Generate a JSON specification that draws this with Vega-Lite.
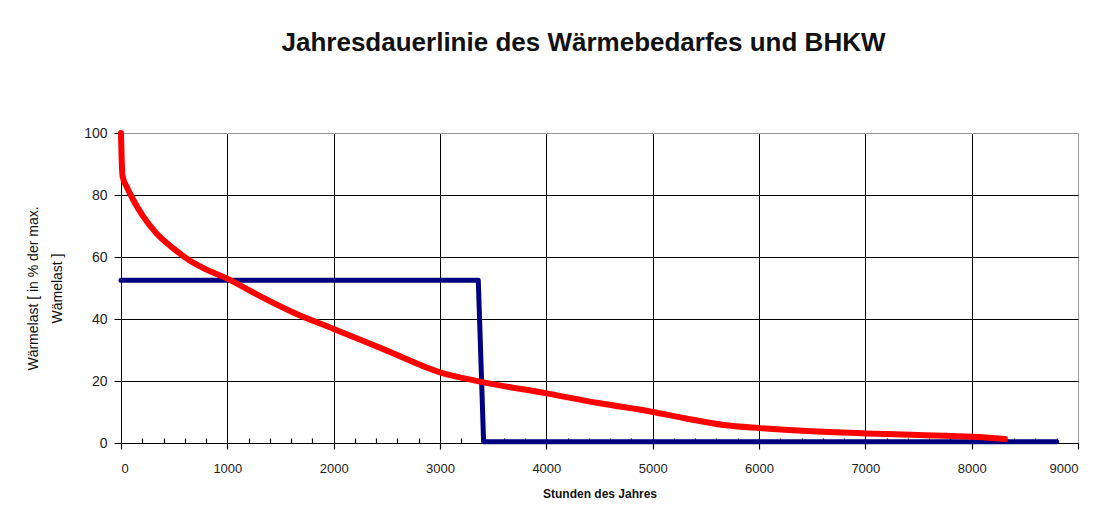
{
  "$schema": "https://vega.github.io/schema/vega-lite/v6.json",
  "autosize": "none",
  "width": 957,
  "height": 310,
  "padding": {"left": 121, "top": 133, "right": 21, "bottom": 74},
  "background": "white",
  "config": {
    "font": "Liberation Sans",
    "view": {"stroke": "#9a9a9a", "strokeWidth": 1},
    "axis": {"labelFont": "Liberation Sans", "titleFont": "Liberation Sans", "labelColor": "#111", "titleColor": "#111"}
  },
  "title": {
    "text": "Jahresdauerlinie des Wärmebedarfes und BHKW",
    "fontSize": 26,
    "fontWeight": "bold",
    "font": "Liberation Sans",
    "color": "#111",
    "anchor": "middle",
    "frame": "group",
    "baseline": "alphabetic",
    "offset": 49,
    "dx": -16,
    "limit": 0
  },
  "datasets": {
    "waerme": [
      {"h": 0, "v": 100},
      {"h": 5, "v": 93},
      {"h": 15, "v": 86},
      {"h": 53, "v": 82.7},
      {"h": 116, "v": 78.4},
      {"h": 210, "v": 73},
      {"h": 335, "v": 67.6},
      {"h": 492, "v": 62.8},
      {"h": 649, "v": 58.8},
      {"h": 800, "v": 56},
      {"h": 994, "v": 53.1},
      {"h": 1307, "v": 47.4},
      {"h": 1652, "v": 41.6},
      {"h": 2000, "v": 36.8},
      {"h": 2500, "v": 29.8},
      {"h": 3000, "v": 22.8},
      {"h": 3376, "v": 19.8},
      {"h": 4004, "v": 16},
      {"h": 4504, "v": 12.8},
      {"h": 4990, "v": 10.1},
      {"h": 5300, "v": 8},
      {"h": 5666, "v": 5.8},
      {"h": 6011, "v": 4.8},
      {"h": 6500, "v": 3.8},
      {"h": 7008, "v": 3.1},
      {"h": 7500, "v": 2.6},
      {"h": 8011, "v": 2.0},
      {"h": 8312, "v": 1.3}
    ],
    "bhkw": [
      {"h": 0, "v": 52.5},
      {"h": 3360, "v": 52.5},
      {"h": 3410, "v": 0.4},
      {"h": 8800, "v": 0.4}
    ]
  },
  "resolve": {"axis": {"x": "independent", "y": "independent"}},
  "layer": [
    {
      "data": {"name": "bhkw"},
      "mark": {"type": "line", "color": "#000080", "strokeWidth": 5, "strokeCap": "round", "strokeJoin": "round"},
      "encoding": {
        "x": {
          "field": "h", "type": "quantitative",
          "scale": {"domain": [0, 9000], "nice": false, "zero": false},
          "axis": {
            "orient": "bottom",
            "values": [0, 1000, 2000, 3000, 4000, 5000, 6000, 7000, 8000, 9000],
            "format": "d",
            "domainColor": "#000",
            "domainWidth": 1,
            "tickColor": "#000",
            "tickSize": 6,
            "tickWidth": 1.2,
            "labelFontSize": 13,
            "labelPadding": 13,
            "labelColor": "#222",
            "grid": true,
            "gridColor": {"condition": {"test": "datum.value >= 9000", "value": "#9a9a9a"}, "value": "#000"},
            "gridWidth": 1,
            "gridOpacity": 1,
            "title": "Stunden des Jahres",
            "titleFontSize": 12,
            "titleFontWeight": "bold",
            "titlePadding": 13
          }
        },
        "y": {
          "field": "v", "type": "quantitative",
          "scale": {"domain": [0, 100], "nice": false},
          "axis": {
            "orient": "left",
            "values": [0, 20, 40, 60, 80, 100],
            "domainColor": "#000",
            "tickColor": "#000",
            "tickSize": 7,
            "labelFontSize": 14,
            "labelPadding": 7,
            "labelColor": "#222",
            "grid": true,
            "gridColor": {"condition": {"test": "datum.value >= 100 || datum.value <= 0", "value": "#9a9a9a"}, "value": "#000"},
            "gridOpacity": 1,
            "title": ["Wärmelast [ in % der max.", "Wämelast ]"],
            "titleFontSize": 14,
            "titleFontWeight": "normal",
            "titleLineHeight": 24,
            "titlePadding": 19
          }
        }
      }
    },
    {
      "data": {"name": "waerme"},
      "mark": {"type": "line", "color": "#ff0000", "strokeWidth": 6, "strokeCap": "round", "strokeJoin": "round", "interpolate": "monotone"},
      "encoding": {
        "x": {
          "field": "h", "type": "quantitative",
          "axis": {
            "orient": "bottom",
            "values": [200, 400, 600, 800, 1200, 1400, 1600, 1800, 2200, 2400, 2600, 2800, 3200, 3400, 3600, 3800, 4200, 4400, 4600, 4800, 5200, 5400, 5600, 5800, 6200, 6400, 6600, 6800, 7200, 7400, 7600, 7800, 8200, 8400, 8600, 8800],
            "labels": false,
            "domain": false,
            "grid": false,
            "tickColor": "#000",
            "tickSize": -5,
            "tickWidth": 1.2,
            "title": null
          }
        },
        "y": {"field": "v", "type": "quantitative", "axis": null}
      }
    }
  ]
}
